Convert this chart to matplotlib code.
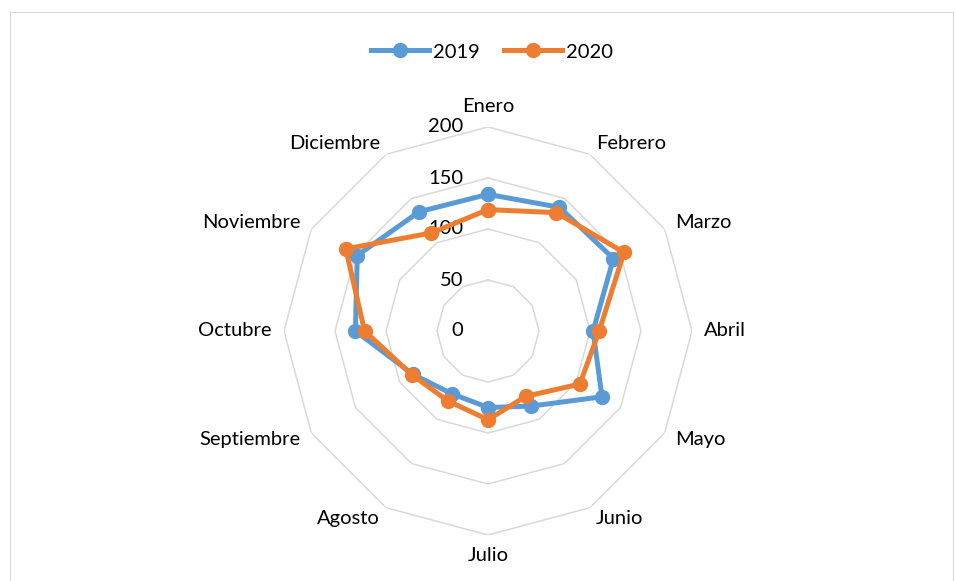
import numpy as np
import matplotlib
matplotlib.use('Agg')
import matplotlib.pyplot as plt
from matplotlib.lines import Line2D

plt.rcParams['font.family'] = ['Lato', 'DejaVu Sans']

months = ["Enero", "Febrero", "Marzo", "Abril", "Mayo", "Junio", "Julio",
          "Agosto", "Septiembre", "Octubre", "Noviembre", "Diciembre"]
vals_2019 = [134, 140, 142, 103, 129, 85, 75, 71, 85, 130, 148, 135]
vals_2020 = [119, 134, 154, 109, 104, 74, 87, 79, 86, 121, 161, 111]
rings = [50, 100, 150, 200]
ring_labels = [0, 50, 100, 150, 200]

blue = "#5B9BD5"
orange = "#ED7D31"
grid_col = "#D9D9D9"
fs = 14.5

fig = plt.figure(figsize=(9.55, 5.81), dpi=100)

# ejes polares centrados en (488, 331) px, radio 204 px
W, H = 955, 581
cx, cy, R = 488, 331, 204
ax = fig.add_axes([(cx - R) / W, (H - cy - R) / H, 2 * R / W, 2 * R / H], projection='polar')
ax.set_theta_zero_location('N')
ax.set_theta_direction(-1)
ax.set_ylim(0, 200)
ax.grid(False)
ax.spines['polar'].set_visible(False)
ax.set_xticks([])
ax.set_yticks([])
ax.patch.set_alpha(0)

theta = np.linspace(0, 2 * np.pi, len(months), endpoint=False)
theta_closed = np.append(theta, theta[0])

# anillos poligonales
for r in rings:
    ax.plot(theta_closed, [r] * len(theta_closed), color=grid_col, lw=1.1, zorder=1)

for v in ring_labels:
    ax.annotate(str(v), xy=(0, v), xytext=(-25, 0), textcoords='offset pixels',
                ha='right', va='center', fontsize=fs, color='black')

for vals, col, lab, z in [(vals_2019, blue, "2019", 3), (vals_2020, orange, "2020", 4)]:
    ax.plot(theta_closed, vals + vals[:1], color=col, lw=3.6, marker='o', markersize=10,
            label=lab, zorder=z, solid_joinstyle='miter')

# etiquetas de categorías
for t, m in zip(theta, months):
    s = np.sin(t)
    c = np.cos(t)
    if abs(s) < 1e-6:
        ha = 'center'
        va = 'bottom' if c > 0 else 'top'
    else:
        ha = 'left' if s > 0 else 'right'
        va = 'center'
    ax.text(t, 212, m, ha=ha, va=va, fontsize=fs, color='black')

fig.legend(loc='center', bbox_to_anchor=(492 / W, 1 - 52 / H), ncol=2, frameon=False,
           fontsize=fs, handlelength=2.9, handletextpad=0.2, columnspacing=1.2)

# borde del área del gráfico
for xs, ys in [([10 / W, 10 / W], [0, 1 - 12 / H]),
               ([10 / W, 953 / W], [1 - 12 / H, 1 - 12 / H]),
               ([953 / W, 953 / W], [1 - 12 / H, 0])]:
    fig.add_artist(Line2D(xs, ys, color=grid_col, lw=0.8, transform=fig.transFigure))

fig.savefig("out.png", dpi=100)
